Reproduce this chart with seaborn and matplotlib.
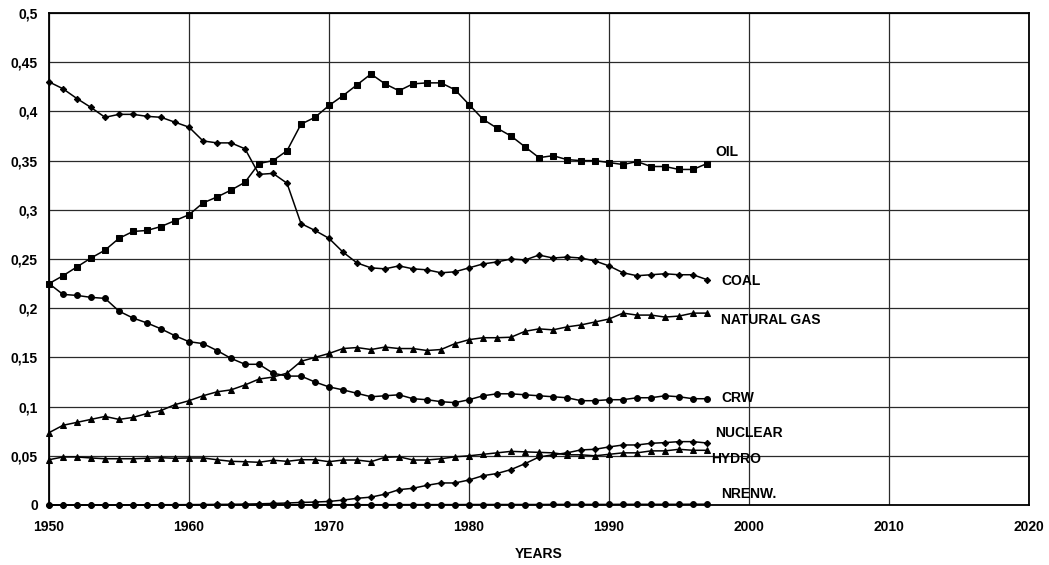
import numpy as np
import pandas as pd
import matplotlib
matplotlib.use("Agg")
import matplotlib.pyplot as plt
import seaborn as sns
from matplotlib.ticker import FuncFormatter, MultipleLocator

years = list(range(1950, 1998))

oil = [0.225, 0.233, 0.242, 0.251, 0.259, 0.271, 0.278, 0.279, 0.283, 0.289,
       0.295, 0.307, 0.313, 0.320, 0.328, 0.347, 0.350, 0.360, 0.387, 0.394,
       0.406, 0.416, 0.427, 0.438, 0.428, 0.421, 0.428, 0.429, 0.429, 0.422,
       0.407, 0.392, 0.383, 0.375, 0.364, 0.353, 0.355, 0.351, 0.350, 0.350,
       0.348, 0.346, 0.349, 0.344, 0.344, 0.341, 0.341, 0.347]
coal = [0.430, 0.423, 0.413, 0.404, 0.394, 0.397, 0.397, 0.395, 0.394, 0.389,
        0.384, 0.370, 0.368, 0.368, 0.362, 0.336, 0.337, 0.327, 0.286, 0.279,
        0.271, 0.257, 0.246, 0.241, 0.240, 0.243, 0.240, 0.239, 0.236, 0.237,
        0.241, 0.245, 0.247, 0.250, 0.249, 0.254, 0.251, 0.252, 0.251, 0.248,
        0.243, 0.236, 0.233, 0.234, 0.235, 0.234, 0.234, 0.229]
gas = [0.0735, 0.081, 0.084, 0.087, 0.090, 0.087, 0.089, 0.093, 0.096, 0.102,
       0.106, 0.111, 0.115, 0.117, 0.122, 0.128, 0.130, 0.134, 0.146, 0.150,
       0.154, 0.159, 0.160, 0.158, 0.1605, 0.159, 0.159, 0.157, 0.158, 0.164,
       0.168, 0.170, 0.170, 0.1705, 0.1765, 0.179, 0.178, 0.181, 0.183, 0.186,
       0.189, 0.195, 0.193, 0.193, 0.191, 0.192, 0.195, 0.195]
crw = [0.225, 0.214, 0.213, 0.211, 0.210, 0.197, 0.190, 0.185, 0.179, 0.172,
       0.166, 0.164, 0.157, 0.149, 0.143, 0.143, 0.134, 0.131, 0.131, 0.125,
       0.120, 0.117, 0.1135, 0.110, 0.111, 0.112, 0.108, 0.107, 0.105, 0.104,
       0.107, 0.111, 0.113, 0.113, 0.112, 0.111, 0.110, 0.109, 0.106, 0.106,
       0.107, 0.107, 0.109, 0.109, 0.111, 0.110, 0.108, 0.108]
nuclear = [0, 0, 0, 0, 0, 0, 0.0002, 0.0002, 0.0003, 0.0003,
           0.0004, 0.0005, 0.0006, 0.0007, 0.0009, 0.0012, 0.0016, 0.002, 0.0026, 0.003,
           0.0036, 0.005, 0.0068, 0.008, 0.011, 0.0156, 0.017, 0.020, 0.0224, 0.0224,
           0.0254, 0.0298, 0.032, 0.036, 0.042, 0.0488, 0.051, 0.053, 0.056, 0.0566,
           0.059, 0.061, 0.061, 0.0627, 0.0634, 0.0644, 0.0644, 0.063]
hydro = [0.046, 0.0488, 0.0488, 0.0478, 0.047, 0.047, 0.047, 0.0475, 0.048, 0.0475,
         0.0478, 0.0478, 0.046, 0.0444, 0.044, 0.0434, 0.0455, 0.0444, 0.046, 0.046,
         0.044, 0.0457, 0.0457, 0.044, 0.0485, 0.049, 0.0457, 0.0457, 0.047, 0.049,
         0.050, 0.0515, 0.053, 0.0545, 0.054, 0.0535, 0.053, 0.051, 0.051, 0.050,
         0.0515, 0.053, 0.053, 0.055, 0.055, 0.0566, 0.0556, 0.0556]
nrenw = [0.0001, 0.0001, 0.0001, 0.0001, 0.0001, 0.0001, 0.0001, 0.0001, 0.0001, 0.0001,
         0.0002, 0.0002, 0.0002, 0.0002, 0.0002, 0.0002, 0.0002, 0.0002, 0.0003, 0.0003,
         0.0003, 0.0003, 0.0003, 0.0003, 0.0003, 0.0004, 0.0004, 0.0004, 0.0004, 0.0004,
         0.0005, 0.0005, 0.0005, 0.0005, 0.0005, 0.0005, 0.0006, 0.0006, 0.0006, 0.0006,
         0.0006, 0.0007, 0.0007, 0.0007, 0.0007, 0.0007, 0.0008, 0.0008]

# name, values, marker, marker size, label position
series = [
    ("OIL", oil, "s", 5, (1997.6, 0.359)),
    ("COAL", coal, "D", 3.2, (1998.0, 0.228)),
    ("NATURAL GAS", gas, "^", 5, (1998.0, 0.188)),
    ("CRW", crw, "o", 4.2, (1998.0, 0.109)),
    ("NUCLEAR", nuclear, "D", 3.2, (1997.6, 0.073)),
    ("HYDRO", hydro, "^", 5, (1997.3, 0.047)),
    ("NRENW.", nrenw, "o", 4.2, (1998.0, 0.0107)),
]

sns.set_style("white")
plt.rcParams["font.family"] = ["Liberation Sans", "DejaVu Sans"]
plt.rcParams["font.weight"] = "bold"
plt.rcParams["text.color"] = "black"
plt.rcParams["axes.labelcolor"] = "black"
plt.rcParams["xtick.color"] = "black"
plt.rcParams["ytick.color"] = "black"

fig = plt.figure(figsize=(10.49, 5.65), dpi=100)
ax = fig.add_axes([49 / 1049, 1 - 505 / 565, 980 / 1049, 492 / 565])

for name, vals, mk, ms, (lx, ly) in series:
    df = pd.DataFrame({"year": years, "share": vals})
    sns.lineplot(data=df, x="year", y="share", ax=ax, color="black", lw=1.1,
                 marker=mk, markersize=ms, markeredgecolor="black",
                 markerfacecolor="black", clip_on=False, zorder=3)
    ax.text(lx, ly, name, fontsize=10, fontweight="bold", ha="left", va="center",
            color="black")

ax.set_xlim(1950, 2020)
ax.set_ylim(0, 0.5)
ax.xaxis.set_major_locator(MultipleLocator(10))
ax.yaxis.set_major_locator(MultipleLocator(0.05))
ax.yaxis.set_major_formatter(FuncFormatter(lambda v, p: f"{v:g}".replace(".", ",")))
ax.grid(True, color="#2a2a2a", lw=0.9)
ax.set_axisbelow(True)
for s in ax.spines.values():
    s.set_color("black")
    s.set_linewidth(1.3)
ax.tick_params(length=0, labelsize=10, labelcolor="black")
ax.tick_params(axis="x", pad=11)
ax.tick_params(axis="y", pad=8)
for t in ax.get_xticklabels() + ax.get_yticklabels():
    t.set_fontweight("bold")
ax.set_xlabel("YEARS", fontsize=10, fontweight="bold", labelpad=9, color="black")
ax.set_ylabel("")

fig.savefig("out.png", dpi=100)
